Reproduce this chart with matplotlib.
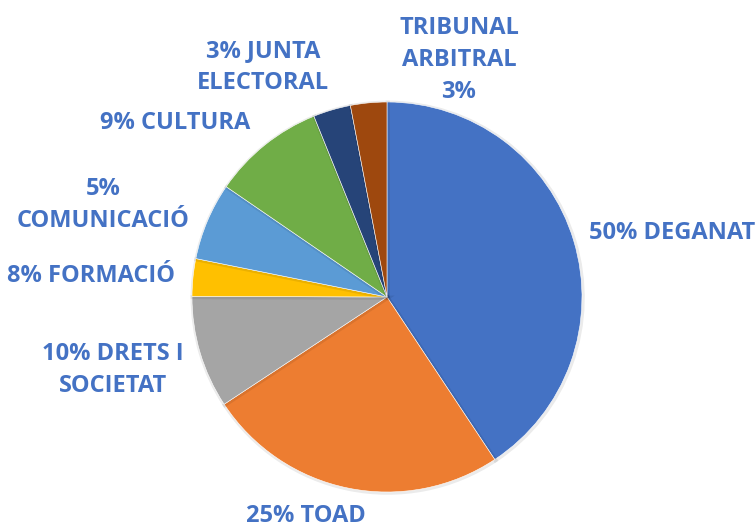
import matplotlib
matplotlib.use("Agg")
import matplotlib.pyplot as plt
import matplotlib.patheffects as pe

categories = ["DEGANAT", "TOAD", "DRETS I SOCIETAT", "FORMACIÓ", "COMUNICACIÓ",
              "CULTURA", "JUNTA ELECTORAL", "TRIBUNAL ARBITRAL"]
values = [40.6, 25.0, 9.3, 3.1, 6.4, 9.3, 3.1, 3.0]
label_texts = ["50% DEGANAT", "25% TOAD", "10% DRETS I\nSOCIETAT", "8% FORMACIÓ",
               "5%\nCOMUNICACIÓ", "9% CULTURA", "3% JUNTA\nELECTORAL", "TRIBUNAL\nARBITRAL\n3%"]
colors = ["#4472C4", "#ED7D31", "#A5A5A5", "#FFC000", "#5B9BD5", "#70AD47", "#264478", "#9E480E"]

# label centers in pixel coordinates of the 756x527 image (layout only)
label_px = [(672, 233), (306, 516), (113, 370), (91, 276), (103, 205),
            (175, 123), (263, 67), (459, 60)]

W, H = 756, 527
cx, cy, R = 387, 297, 195

fig = plt.figure(figsize=(W / 100, H / 100), dpi=100)
ax = fig.add_axes([(cx - R) / W, (H - cy - R) / H, 2 * R / W, 2 * R / H])

wedges, _ = ax.pie(values, colors=colors, startangle=90, counterclock=False, radius=1,
                   wedgeprops=dict(edgecolor="white", linewidth=0.4))
for w in wedges:
    w.set_path_effects([pe.SimpleLineShadow(offset=(0.5, -0.5), alpha=0.08, rho=1, linewidth=3),
                        pe.Normal()])
ax.set_xlim(-1, 1)
ax.set_ylim(-1, 1)
ax.set_aspect("equal")
ax.axis("off")

for txt, (px, py) in zip(label_texts, label_px):
    ax.text((px - cx) / R, (cy - py) / R, txt, ha="center", va="center",
            fontsize=17, fontweight="bold", color="#4472C4", family="Open Sans",
            linespacing=1.45, clip_on=False)

fig.savefig("out.png", dpi=100)
